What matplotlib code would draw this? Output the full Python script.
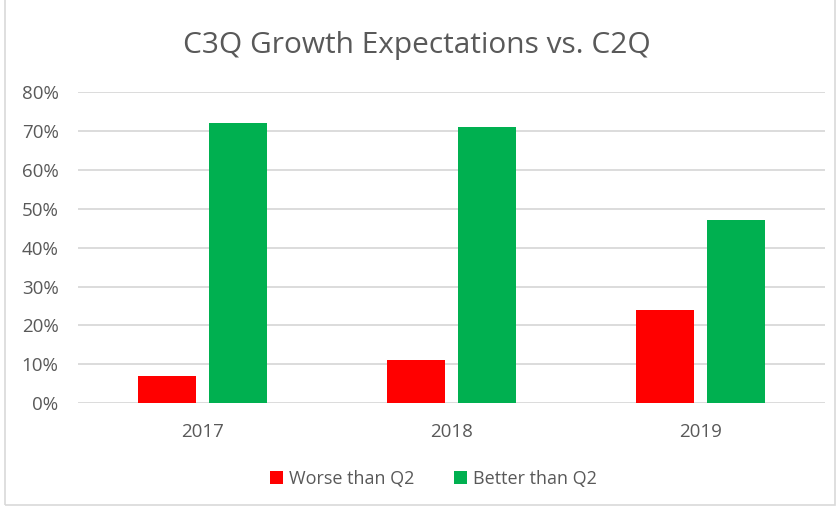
import matplotlib
matplotlib.use('Agg')
import matplotlib.pyplot as plt
import numpy as np
from matplotlib.patches import Rectangle

years = ['2017', '2018', '2019']
worse = [7, 11, 24]
better = [72, 71, 47]
yticks = [0, 10, 20, 30, 40, 50, 60, 70, 80]

plt.rcParams['font.family'] = ['Open Sans', 'DejaVu Sans']
txt = '#595959'

fig = plt.figure(figsize=(8.38, 5.09), dpi=100)
ax = fig.add_axes([0.0931, 0.2077, 0.8914, 0.6116])

x = np.arange(len(years))
w = 0.233
ax.bar(x - 0.143, worse, w, color='#FF0000', label='Worse than Q2', zorder=3)
ax.bar(x + 0.143, better, w, color='#00B050', label='Better than Q2', zorder=3)

ax.set_xlim(-0.5, 2.5)
ax.set_ylim(0, 80)
ax.set_yticks(yticks)
ax.set_yticklabels([f'{v}%' for v in yticks])
ax.set_xticks(x)
ax.set_xticklabels(years)
ax.grid(axis='y', color='#D9D9D9', linewidth=1.3, zorder=0)
for s in ax.spines.values():
    s.set_visible(False)
ax.tick_params(length=0, colors=txt, labelsize=13.5)
ax.tick_params(axis='y', pad=14)
ax.tick_params(axis='x', pad=14)

fig.text(0.497, 0.91, 'C3Q Growth Expectations vs. C2Q', ha='center', va='center',
         fontsize=21.5, color=txt)

leg = fig.legend(loc='center', bbox_to_anchor=(0.517, 0.059), ncol=2, frameon=False,
                 fontsize=13, handlelength=0.75, handleheight=0.75, handletextpad=0.3,
                 columnspacing=2.2)
for t in leg.get_texts():
    t.set_color(txt)

fig.patches.append(Rectangle((0.006, 0.008), 0.99, 1.1, transform=fig.transFigure,
                             fill=False, edgecolor='#D9D9D9', linewidth=1.2))

fig.savefig('out.png', dpi=100)
